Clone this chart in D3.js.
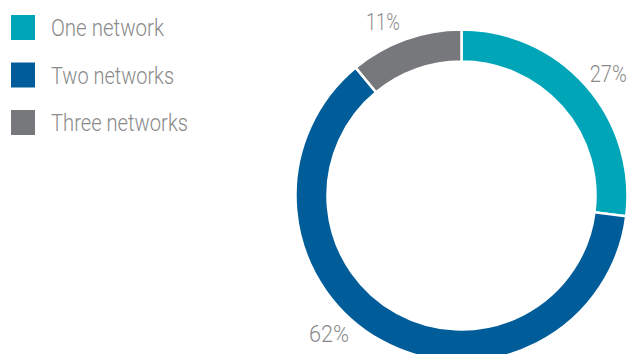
<!DOCTYPE html>
<html><head><meta charset="utf-8">
<script src="https://cdn.jsdelivr.net/npm/d3@7"></script>
<style>html,body{margin:0;padding:0;background:#fff;}svg{display:block;}</style>
</head><body><svg id="chart" width="633" height="354"></svg>
<script>
const categories = ["One network", "Two networks", "Three networks"];
const values = [27, 62, 11];
const valueLabels = ["27%", "62%", "11%"];
const colors = ["#00a6b8", "#005d99", "#77787b"];
const labelAngleDeg = [50.2, 223.9, 335.7];
const labelWidths = [37, 40, 34];
const legendTextWidths = [113, 123, 137];

const svg = d3.select("#chart");
const cx = 461.5, cy = 195.5, outerR = 166, innerR = 134;
const g = svg.append("g").attr("transform", `translate(${cx},${cy})`);

const pie = d3.pie().sort(null).value(d => d)(values);
const arc = d3.arc().innerRadius(innerR).outerRadius(outerR);
g.selectAll("path.slice").data(pie).join("path")
  .attr("class", "slice")
  .attr("d", arc)
  .attr("fill", (d, i) => colors[i])
  .attr("stroke", "#fff")
  .attr("stroke-width", 2.5);

const labelArc = d3.arc().innerRadius(191).outerRadius(191);
g.selectAll("text.lbl").data(pie).join("text")
  .attr("class", "lbl")
  .attr("transform", (d, i) => {
    const a = labelAngleDeg[i] * Math.PI / 180;
    const c = labelArc.centroid({startAngle: a, endAngle: a});
    return `translate(${c[0] - labelWidths[i] / 2},${c[1]})`;
  })
  .attr("dy", "0.36em")
  .attr("font-family", "Roboto, 'Liberation Sans', sans-serif")
  .attr("font-weight", 300)
  .attr("font-size", 24)
  .attr("fill", "#8a8a8a")
  .attr("textLength", (d, i) => labelWidths[i])
  .attr("lengthAdjust", "spacingAndGlyphs")
  .text((d, i) => valueLabels[i]);

const ly = d3.scalePoint().domain(categories).range([15, 110]);
const leg = svg.selectAll("g.leg").data(categories).join("g")
  .attr("class", "leg")
  .attr("transform", d => `translate(11,${ly(d)})`);
leg.append("rect").attr("width", 24).attr("height", 25)
  .attr("fill", (d, i) => colors[i]);
leg.append("text").attr("x", 40).attr("y", 21)
  .attr("font-family", "Roboto, 'Liberation Sans', sans-serif")
  .attr("font-weight", 300)
  .attr("font-size", 24)
  .attr("fill", "#8a8a8a")
  .attr("textLength", (d, i) => legendTextWidths[i])
  .attr("lengthAdjust", "spacingAndGlyphs")
  .text(d => d);
</script></body></html>
